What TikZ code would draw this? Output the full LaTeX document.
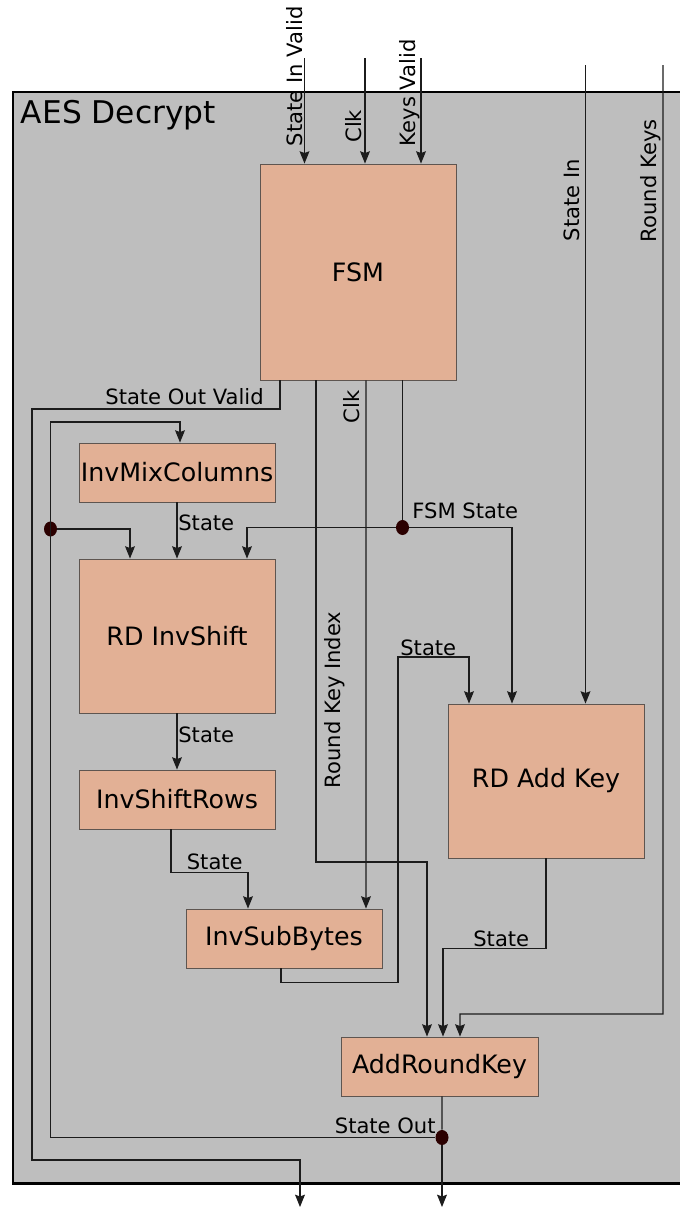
\documentclass[tikz,border=0pt]{standalone}
\usepackage{fontspec}
\setmainfont{DejaVu Sans}
\usetikzlibrary{arrows.meta,shapes.geometric}
\definecolor{panelgray}{HTML}{BEBEBE}
\definecolor{blockfill}{HTML}{E2B095}
\definecolor{blockline}{HTML}{5E5550}
\definecolor{wirecol}{HTML}{1C1C1C}
\definecolor{jointcol}{HTML}{2B0000}
\tikzset{
	block/.style={draw=blockline, fill=blockfill, line width=0.5pt, inner sep=0pt, font=\fontsize{14.4}{16}\selectfont},
	wire/.style={draw=wirecol, line width=0.65pt},
	sig/.style={wire, -{Stealth[length=7pt, width=5.6pt, inset=1pt]}},
	lbl/.style={font=\fontsize{12}{14}\selectfont, inner sep=0pt},
	vlbl/.style={lbl, rotate=90, anchor=base west},
	joint/.style={ellipse, fill=jointcol, inner sep=0pt, minimum width=0.26cm, minimum height=0.3cm}
}

\begin{document}
\begin{tikzpicture}
			%%%%% START %%%%%
			\useasboundingbox (0, 0) rectangle (13.6, -24.18);
			\clip (0, 0) rectangle (13.6, -24.18);
			
			% outer panel
			\draw[line width=1.7pt, fill=panelgray] (0.26, -1.84) rectangle (13.95, -23.66);
			\node[font=\fontsize{17.8}{20}\selectfont, anchor=base west, inner sep=0pt] (title) at (0.41, -2.46) {AES Decrypt};
			
			% blocks
			\node[block, minimum width=3.92cm, minimum height=4.32cm] (fsm) at (7.16, -5.44) {FSM};
			\node[block, minimum width=3.92cm, minimum height=1.18cm] (imc) at (3.54, -9.45) {InvMixColumns};
			\node[block, minimum width=3.92cm, minimum height=3.08cm] (rdis) at (3.54, -12.72) {RD InvShift};
			\node[block, minimum width=3.92cm, minimum height=1.18cm] (isr) at (3.54, -15.99) {InvShiftRows};
			\node[block, minimum width=3.92cm, minimum height=1.18cm] (isb) at (5.68, -18.77) {InvSubBytes};
			\node[block, minimum width=3.92cm, minimum height=3.08cm] (rdak) at (10.92, -15.62) {RD Add Key};
			\node[block, minimum width=3.94cm, minimum height=1.18cm] (ark) at (8.79, -21.33) {AddRoundKey};
			
			% free ends of the ports
			\coordinate (sivin) at (6.09, -1.16);
			\coordinate (clkin) at (7.30, -1.16);
			\coordinate (kvin) at (8.42, -1.16);
			\coordinate (stin) at (11.71, -1.30);
			\coordinate (rkin) at (13.26, -1.30);
			\coordinate (svout) at (6.00, -24.14);
			\coordinate (soout) at (8.84, -24.14);
			
			% branch points
			\node[joint] (fsmst) at (8.05, -10.55) {};
			\node[joint] (soj) at (8.84, -22.75) {};
			\node[joint] (fbj) at (1.01, -10.58) {};
			
			% inputs
			\draw[sig] (sivin) -- (sivin |- fsm.north);
			\draw[sig] (clkin) -- (clkin |- fsm.north);
			\draw[sig] (kvin) -- (kvin |- fsm.north);
			\draw[sig] (stin) -- (stin |- rdak.north);
			\draw[sig] (rkin) |- (9.2, -20.28) -- ([xshift=0.41cm]ark.north);
			\node[vlbl] (sivlbl) at (6.04, -2.93) {State In Valid};
			\node[vlbl] (clklbl) at (7.22, -2.86) {Clk};
			\node[vlbl] (kvlbl) at (8.30, -2.93) {Keys Valid};
			\node[vlbl] (stlbl) at (11.59, -4.83) {State In};
			\node[vlbl] (rklbl) at (13.13, -4.85) {Round Keys};
			
			% FSM outputs
			\draw[sig] ([xshift=-1.56cm]fsm.south) |- (0.64, -8.18) |- (6.0, -23.2) -- (svout);
			\node[lbl, anchor=base east] (svlbl) at (5.28, -8.08) {State Out Valid};
			\draw[sig] ([xshift=-0.84cm]fsm.south) |- (8.54, -17.24) -- ([xshift=-0.25cm]ark.north);
			\node[vlbl] (rkilbl) at (6.81, -15.77) {Round Key Index};
			\draw[sig] ([xshift=0.16cm]fsm.south) -- ([xshift=1.64cm]isb.north);
			\node[vlbl] (clk2lbl) at (7.19, -8.47) {Clk};
			\draw[wire] ([xshift=0.89cm]fsm.south) -- (fsmst);
			\draw[sig] (fsmst) -| ([xshift=1.4cm]rdis.north);
			\draw[sig] (fsmst) -| ([xshift=-0.68cm]rdak.north);
			\node[lbl, anchor=base west] (fsmstlbl) at (8.24, -10.36) {FSM State};
			
			% state path
			\draw[sig] (imc.south) -- (rdis.north);
			\node[lbl, anchor=base west] (s1lbl) at (3.56, -10.6) {State};
			\draw[sig] (fbj) -| ([xshift=-0.94cm]rdis.north);
			\draw[sig] (rdis.south) -- (isr.north);
			\node[lbl, anchor=base west] (s2lbl) at (3.56, -14.84) {State};
			\draw[sig] ([xshift=-0.12cm]isr.south) -- ++(0, -0.86) -| ([xshift=-0.72cm]isb.north);
			\node[lbl, anchor=base west] (s3lbl) at (3.73, -17.38) {State};
			\draw[sig] ([xshift=-0.06cm]isb.south) -- ++(0, -0.28) -| (7.96, -13.14) -| ([xshift=-1.54cm]rdak.north);
			\node[lbl, anchor=base west] (s4lbl) at (8.0, -13.11) {State};
			\draw[sig] (rdak.south) -- ++(0, -1.8) -| ([xshift=0.07cm]ark.north);
			\node[lbl, anchor=base west] (s5lbl) at (9.46, -18.92) {State};
			
			% state out and feedback
			\draw[wire] ([xshift=0.05cm]ark.south) -- (soj);
			\draw[sig] (soj) -- (soout);
			\draw[sig] (soj) -| (1.01, -8.44) -| ([xshift=0.06cm]imc.north);
			\node[lbl, anchor=base east] (solbl) at (8.72, -22.66) {State Out};
			
			%%%%% END %%%%%
		\end{tikzpicture}
\end{document}
